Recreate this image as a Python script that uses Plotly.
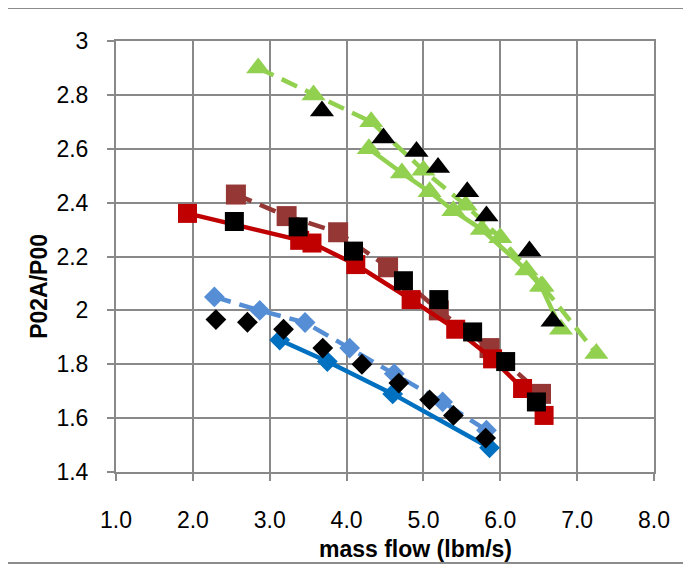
import plotly.graph_objects as go

# ---- data ----
green_dash_x = [2.85, 3.57, 4.32, 5.00, 5.55, 6.00, 6.55, 7.25]
green_dash_y = [2.90, 2.80, 2.70, 2.52, 2.39, 2.27, 2.09, 1.84]

green_solid_x = [4.29, 4.72, 5.08, 5.39, 5.76, 6.34, 6.53, 6.79]
green_solid_y = [2.60, 2.51, 2.44, 2.37, 2.30, 2.15, 2.09, 1.93]

black_tri_x = [3.68, 4.48, 4.91, 5.19, 5.57, 5.82, 6.38, 6.68]
black_tri_y = [2.74, 2.64, 2.59, 2.53, 2.44, 2.35, 2.22, 1.96]

brown_dash_x = [2.56, 3.22, 3.89, 4.54, 5.20, 5.86, 6.53]
brown_dash_y = [2.43, 2.35, 2.29, 2.16, 2.00, 1.86, 1.69]

red_solid_x = [1.93, 3.39, 3.55, 4.12, 4.84, 5.42, 5.90, 6.29, 6.57]
red_solid_y = [2.36, 2.26, 2.25, 2.17, 2.04, 1.93, 1.82, 1.71, 1.61]

black_sq_x = [2.54, 3.37, 4.09, 4.74, 5.20, 5.64, 6.07, 6.47]
black_sq_y = [2.33, 2.31, 2.22, 2.11, 2.04, 1.92, 1.81, 1.66]

lblue_dash_x = [2.28, 2.87, 3.46, 4.04, 4.62, 5.25, 5.82]
lblue_dash_y = [2.05, 2.00, 1.955, 1.86, 1.765, 1.66, 1.555]

blue_solid_x = [3.13, 3.75, 4.60, 5.86]
blue_solid_y = [1.89, 1.81, 1.69, 1.49]

black_dia_x = [2.30, 2.71, 3.18, 3.69, 4.20, 4.68, 5.08, 5.39, 5.81]
black_dia_y = [1.966, 1.956, 1.93, 1.86, 1.80, 1.73, 1.668, 1.61, 1.526]

x_ticks = [1, 2, 3, 4, 5, 6, 7, 8]
x_tick_labels = ["1.0", "2.0", "3.0", "4.0", "5.0", "6.0", "7.0", "8.0"]
y_ticks = [1.4, 1.6, 1.8, 2.0, 2.2, 2.4, 2.6, 2.8, 3.0]
y_tick_labels = ["1.4", "1.6", "1.8", "2", "2.2", "2.4", "2.6", "2.8", "3"]

FONT = "Liberation Sans"
GRID = "#898989"

fig = go.Figure()

def add_line(x, y, color, symbol, size, dash):
    fig.add_trace(go.Scatter(
        x=x, y=y, mode="lines+markers",
        line=dict(color=color, width=4.5, dash=dash),
        marker=dict(symbol=symbol, size=size, color=color, line=dict(width=0)),
        showlegend=False, hoverinfo="x+y"))

def add_black(x, y, symbol, size):
    fig.add_trace(go.Scatter(
        x=x, y=y, mode="markers",
        marker=dict(symbol=symbol, size=size, color="black", line=dict(width=0)),
        showlegend=False, hoverinfo="x+y"))

add_line(lblue_dash_x, lblue_dash_y, "#558ED5", "diamond", 16, "17px,9px")
add_line(blue_solid_x, blue_solid_y, "#0070C0", "diamond", 16, "solid")
add_line(brown_dash_x, brown_dash_y, "#953735", "square", 20, "17px,9px")
add_line(red_solid_x, red_solid_y, "#C00000", "square", 19, "solid")
add_line(green_dash_x, green_dash_y, "#92D050", "triangle-up", 21, "17px,9px")
add_line(green_solid_x, green_solid_y, "#92D050", "triangle-up", 21, "solid")
add_black(black_dia_x, black_dia_y, "diamond", 16)
add_black(black_sq_x, black_sq_y, "square", 19)
add_black(black_tri_x, black_tri_y, "triangle-up", 21)

fig.update_layout(
    width=691, height=565,
    margin=dict(l=108, r=45, t=33, b=101),
    paper_bgcolor="white", plot_bgcolor="white",
    font=dict(family=FONT, size=23, color="black"),
    xaxis=dict(range=[1, 8], tickvals=x_ticks, ticktext=x_tick_labels,
               showgrid=True, gridcolor=GRID, gridwidth=2,
               showline=True, linecolor=GRID, linewidth=2, mirror=True,
               ticks="outside", ticklen=7, tickcolor=GRID, tickwidth=2,
               ticklabelstandoff=19, zeroline=False,
               tickfont=dict(family=FONT, size=23)),
    yaxis=dict(range=[1.4, 3.0], tickvals=y_ticks, ticktext=y_tick_labels,
               showgrid=True, gridcolor=GRID, gridwidth=2,
               showline=True, linecolor=GRID, linewidth=2, mirror=True,
               ticks="outside", ticklen=7, tickcolor=GRID, tickwidth=2,
               ticklabelstandoff=14, zeroline=False,
               tickfont=dict(family=FONT, size=23)),
    annotations=[
        dict(text="<b>mass flow (lbm/s)</b>", xref="paper", yref="paper",
             x=0.556, y=-0.179, xanchor="center", yanchor="middle",
             showarrow=False, font=dict(family=FONT, size=23)),
        dict(text="<b>P02A/P00</b>", xref="paper", yref="paper",
             x=-0.142, y=0.431, xanchor="center", yanchor="middle",
             textangle=-90, showarrow=False, font=dict(family=FONT, size=23)),
    ],
    shapes=[
        dict(type="rect", xref="paper", yref="paper",
             x0=-0.206, x1=1.0595, y0=-0.211, y1=1.0766,
             line=dict(color="#8c8c8c", width=2), layer="below"),
    ],
)

fig.write_html("out.html")
